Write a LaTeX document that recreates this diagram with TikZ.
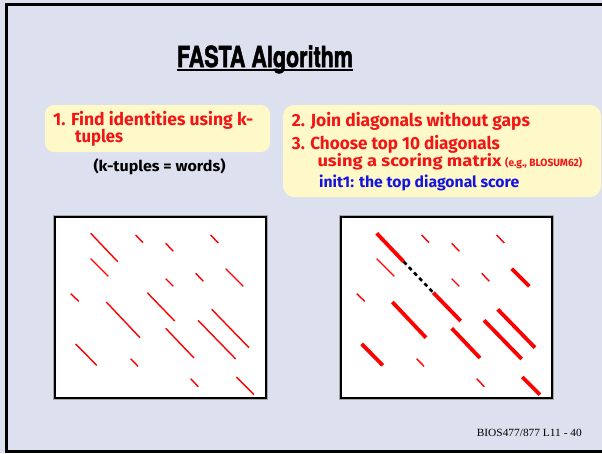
\documentclass[tikz,border=0pt]{standalone}
\usepackage{fontspec}
\usepackage{graphicx}
\setmainfont{Liberation Serif}
\newfontfamily\headfont[BoldFeatures={FakeBold=2}]{TeX Gyre Heros}
\newfontfamily\notefont{Fira Sans}
\definecolor{slidebg}{HTML}{DDE0EE}
\definecolor{notebg}{HTML}{FFF8C8}
\definecolor{notered}{HTML}{F21515}
\definecolor{noteblue}{HTML}{1515E0}
\definecolor{hitred}{HTML}{FF0000}
% squeeze a line of text horizontally to a given width
\newcommand{\fitw}[2]{\resizebox{#1}{\height}{#2}}
\tikzset{
  notebox/.style={fill=notebg, draw=none, rounded corners=9pt},
  txt/.style={anchor=base west, inner sep=0pt, font=\notefont\bfseries},
  matbox/.style={fill=white, draw=black, line width=1.8pt},
  matshadow/.style={draw=black!35, line width=3.6pt},
  hit/.style={draw=hitred, line width=1.4pt},
  bighit/.style={draw=hitred, line width=3.8pt},
  joinline/.style={draw=black, line width=2.6pt, dash pattern=on 4pt off 3.5pt}
}
\begin{document}
\begin{tikzpicture}[x=1pt,y=-1pt]
\useasboundingbox (0,0) rectangle (602,453);
\fill[slidebg] (0,0) rectangle (602,453);
\begin{scope}
  \clip (0,0) rectangle (602,453);
  \draw[line width=2.6pt] (6.2,4.2) rectangle (640,451.5);
\end{scope}

% title
\node[anchor=base, inner sep=0pt] (title) at (265,67)
  {\fitw{176pt}{\fontsize{29}{30}\headfont\bfseries FASTA Algorithm}};
\path (title.base west) ++(0,3) coordinate (ulA)
  (title.base east) ++(0,3) coordinate (ulB);
\draw[line width=2.2pt] (ulA) -- (ulB);

% note boxes
\fill[notebox] (45,105) rectangle (270,152);
\fill[notebox, rounded corners=11pt] (283,105) rectangle (601,197);

\node[txt, text=notered] (s1a) at (53,125)
  {\fitw{200pt}{\fontsize{17.5}{20}\selectfont 1. Find identities using k-}};
\node[txt, text=notered] (s1b) at (75,142)
  {\fitw{48pt}{\fontsize{17.5}{20}\selectfont tuples}};
\node[txt, text=black] (s1c) at (93.3,171)
  {\fitw{132pt}{\fontsize{15}{18}\selectfont (k-tuples = words)}};

\node[txt, text=notered] (s2) at (291.7,126)
  {\fitw{238pt}{\fontsize{17.5}{20}\selectfont 2. Join diagonals without gaps}};
\node[txt, text=notered] (s3) at (291.7,149)
  {\fitw{208pt}{\fontsize{17.5}{20}\selectfont 3. Choose top 10 diagonals}};
\node[txt, text=notered] (s3b) at (317.3,166)
  {\fitw{184pt}{\fontsize{16}{18}\selectfont using a scoring matrix}};
\node[txt, text=notered] (s3c) at (505,166)
  {\fitw{77pt}{\fontsize{10.5}{12}\selectfont (e.g., BLOSUM62)}};
\node[txt, text=noteblue] (s4) at (319,187.7)
  {\fitw{200pt}{\fontsize{15.5}{18}\selectfont init1: the top diagonal score}};

% dot-plot matrices
\draw[matshadow] (55,217) rectangle (266,398);
\draw[matbox] (55,217) rectangle (266,398);
\draw[matshadow] (341,217) rectangle (552,398);
\draw[matbox] (341,217) rectangle (552,398);

% word hits, left matrix
\foreach \a/\b/\c/\d in {
  90.7/233.3/117.7/261.7, 135.7/235/143/242.7, 165.7/243.3/173.3/251.3,
  210.7/235/218.3/243, 90.7/258.7/108.3/276.3, 165.7/278.7/173.3/286.3,
  195.7/273.3/203.3/281.3, 225.7/268.7/243.3/286.3, 70.7/293.7/78.7/301.3,
  106.3/302/140/337.7, 147.3/292.7/174.7/321, 211.7/309.3/249/347.7,
  198/320.3/235.7/359, 165.7/328.3/194/358, 75.7/344/96.7/365.3,
  130.7/358.7/138/366.3, 190.7/378.7/198.3/386.7, 236.3/377/254/394.7}
  \draw[hit] (\a,\b) -- (\c,\d);

% right matrix: same hits, best diagonals emphasised
\begin{scope}[xshift=286pt]
\foreach \a/\b/\c/\d in {
  135.7/235/143/242.7, 165.7/243.3/173.3/251.3,
  210.7/235/218.3/243, 90.7/258.7/108.3/276.3, 165.7/278.7/173.3/286.3,
  195.7/273.3/203.3/281.3, 70.7/293.7/78.7/301.3,
  130.7/358.7/138/366.3, 190.7/378.7/198.3/386.7}
  \draw[hit] (\a,\b) -- (\c,\d);
\foreach \a/\b/\c/\d in {
  90.7/233.3/117.7/261.7, 225.7/268.7/243.3/286.3,
  106.3/302/140/337.7, 147.3/292.7/174.7/321, 211.7/309.3/249/347.7,
  198/320.3/235.7/359, 165.7/328.3/194/358, 75.7/344/96.7/365.3,
  236.3/377/254/394.7}
  \draw[bighit] (\a,\b) -- (\c,\d);
\coordinate (gapA) at (117.7,261.7);
\coordinate (gapB) at (147.3,292.7);
\draw[joinline] (gapA) -- (gapB);
\end{scope}

% footer
\node[anchor=base east, inner sep=0pt] (foot) at (582,436)
  {\fitw{105pt}{\fontsize{11}{13}\selectfont BIOS477/877 L11 - 40}};
\end{tikzpicture}
\end{document}
